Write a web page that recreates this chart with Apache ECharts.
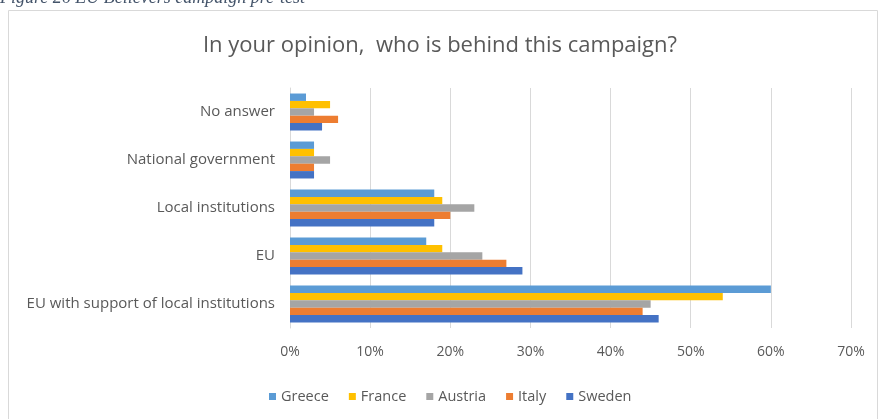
<!DOCTYPE html>
<html>
<head>
<meta charset="utf-8">
<script src="https://cdn.jsdelivr.net/npm/echarts@6/dist/echarts.min.js"></script>
<style>
  html, body { margin: 0; padding: 0; background: #ffffff; }
  #chart { width: 880px; height: 419px; }
</style>
</head>
<body>
<div id="chart"></div>
<script>
// Answer categories, listed bottom to top along the vertical axis
const categories = [
  'EU with support of local institutions',
  'EU',
  'Local institutions',
  'National government',
  'No answer'
];

// Share of respondents per country (%), same order as categories
const greece  = [60, 17, 18, 3, 2];
const france  = [54, 19, 19, 3, 5];
const austria = [45, 24, 23, 5, 3];
const italy   = [44, 27, 20, 3, 6];
const sweden  = [46, 29, 18, 3, 4];

const countries = ['Greece', 'France', 'Austria', 'Italy', 'Sweden'];
const tickValues = [0, 10, 20, 30, 40, 50, 60, 70];

const palette = {
  Greece: '#5b9bd5',
  France: '#ffc000',
  Austria: '#a5a5a5',
  Italy: '#ed7d31',
  Sweden: '#4472c4'
};

const values = { Greece: greece, France: france, Austria: austria, Italy: italy, Sweden: sweden };

const chart = echarts.init(document.getElementById('chart'));

chart.setOption({
  animation: false,
  textStyle: { fontFamily: 'Open Sans' },
  graphic: [
    {
      type: 'rect',
      shape: { x: 8.5, y: 10.5, width: 869, height: 420 },
      style: { fill: 'none', stroke: '#d9d9d9', lineWidth: 1 },
      silent: true
    },
    {
      type: 'text',
      left: 0,
      top: -11,
      style: {
        text: 'Figure 26 EU Believers campaign pre-test',
        fill: '#44546a',
        font: 'italic 18px "Liberation Serif"'
      },
      silent: true
    }
  ],
  title: {
    text: 'In your opinion,  who is behind this campaign?',
    left: 'center',
    top: 30,
    textStyle: { color: '#595959', fontSize: 22, fontWeight: 'normal', fontFamily: 'Open Sans' }
  },
  legend: {
    data: countries,
    left: 264,
    top: 384,
    icon: 'rect',
    itemWidth: 7,
    itemHeight: 7,
    itemGap: 20,
    textStyle: { color: '#595959', fontSize: 14.5 }
  },
  grid: { left: 290, right: 29, top: 88, bottom: 91 },
  xAxis: {
    type: 'value',
    min: tickValues[0],
    max: tickValues[tickValues.length - 1],
    interval: tickValues[1] - tickValues[0],
    axisLine: { show: false },
    axisTick: { show: false },
    splitLine: { lineStyle: { color: '#d9d9d9', width: 1 } },
    axisLabel: { color: '#595959', fontSize: 14, margin: 17, formatter: '{value}%' }
  },
  yAxis: {
    type: 'category',
    data: categories,
    axisLine: { show: true, lineStyle: { color: '#d9d9d9' } },
    axisTick: { show: false },
    axisLabel: { color: '#595959', fontSize: 15, margin: 15 }
  },
  series: countries.map(name => ({
    name: name,
    type: 'bar',
    data: values[name],
    barGap: '0%',
    barCategoryGap: '23%',
    itemStyle: { color: palette[name] }
  }))
});
</script>
</body>
</html>
